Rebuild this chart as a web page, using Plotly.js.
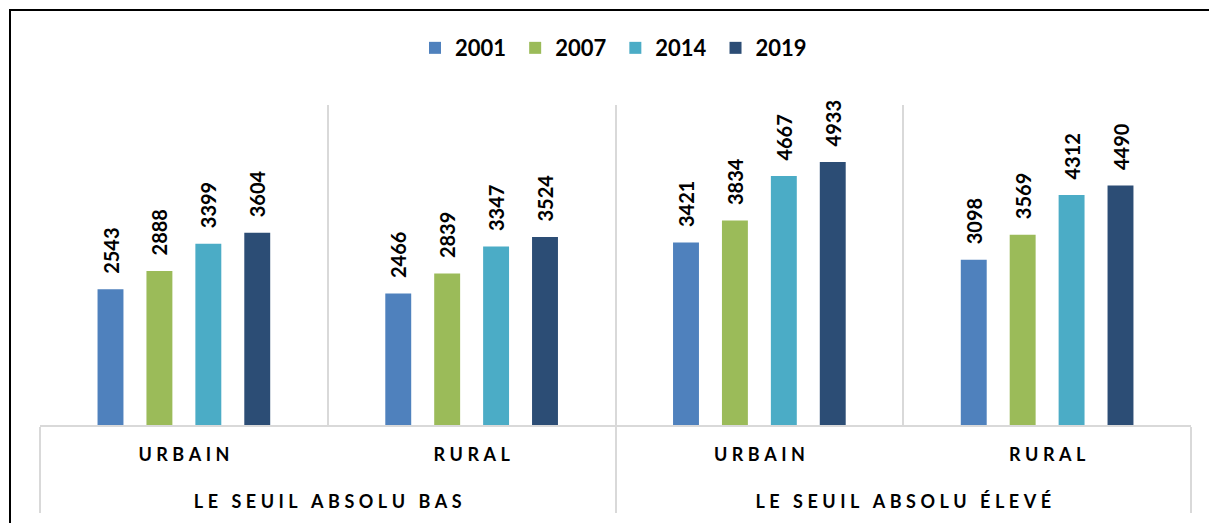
<!DOCTYPE html>
<html>
<head>
<meta charset="utf-8">
<script src="https://cdn.plot.ly/plotly-3.0.1.min.js"></script>
<style>
  html, body { margin: 0; padding: 0; background: #fff; }
  #wrap { position: relative; width: 1209px; height: 523px; overflow: hidden; }
  #chart { width: 1209px; height: 523px; }
  #frame { position: absolute; left: 9px; top: 9px; width: 1300px; height: 600px;
           border-left: 2px solid #000; border-top: 2px solid #000; pointer-events: none; }
</style>
</head>
<body>
<div id="wrap"><div id="chart"></div><div id="frame"></div></div>
<script>
const groups = ["LE SEUIL ABSOLU BAS", "LE SEUIL ABSOLU ÉLEVÉ"];
const areas = ["URBAIN", "RURAL"];
const years = ["2001", "2007", "2014", "2019"];
const v2001 = [2543, 2466, 3421, 3098];
const v2007 = [2888, 2839, 3834, 3569];
const v2014 = [3399, 3347, 4667, 4312];
const v2019 = [3604, 3524, 4933, 4490];
const colors = ["#4F81BD", "#9BBB59", "#4BACC6", "#2C4D75"];

const spaced = (s, sp) => s.split("").join(sp);
const lvl1 = [], lvl2 = [];
groups.forEach(g => areas.forEach(a => {
  lvl1.push(spaced(g, "\u2009\u2009"));
  lvl2.push(spaced(a, "\u2009\u2009") + "<br><span style='font-size:48px'>\u00A0</span>");
}));

const FONT = "Lato, 'Open Sans', sans-serif";
const series = [v2001, v2007, v2014, v2019];
const traces = series.map((vals, i) => ({
  type: "bar",
  name: years[i] + "\u2009\u200A",
  x: [lvl1, lvl2],
  y: vals,
  marker: { color: colors[i] },
  text: vals.map(v => "\u2002\u2009" + v),
  texttemplate: "%{text}",
  textposition: "outside",
  textangle: -90,
  constraintext: "none",
  cliponaxis: false,
  textfont: { family: FONT, size: 20, color: "#000", weight: "bold" },
  hoverinfo: "skip"
}));

const layout = {
  width: 1209, height: 523,
  margin: { l: 40, r: 18, t: 105, b: 98 },
  paper_bgcolor: "#fff", plot_bgcolor: "#fff",
  barmode: "group",
  bargap: 0.32,
  bargroupgap: 0.47,
  font: { family: FONT, color: "#000" },
  showlegend: true,
  legend: {
    orientation: "h", x: 0.5, xanchor: "center", y: 1.178, yanchor: "middle",
    font: { family: FONT, size: 22, color: "#000", weight: "bold" },
    traceorder: "normal"
  },
  xaxis: {
    type: "multicategory",
    tickson: "boundaries",
    showgrid: true, gridcolor: "#d9d9d9", gridwidth: 2,
    showline: true, linecolor: "#d9d9d9", linewidth: 2,
    showdividers: true, dividercolor: "#d9d9d9", dividerwidth: 2,
    ticks: "",
    ticklabelstandoff: 12,
    tickfont: { family: FONT, size: 18, color: "#000", weight: "bold" },
    zeroline: false
  },
  yaxis: {
    range: [0, 6000],
    visible: false,
    showgrid: false, zeroline: false
  }
};

Plotly.newPlot("chart", traces, layout, { staticPlot: true, displayModeBar: false });
</script>
</body>
</html>
